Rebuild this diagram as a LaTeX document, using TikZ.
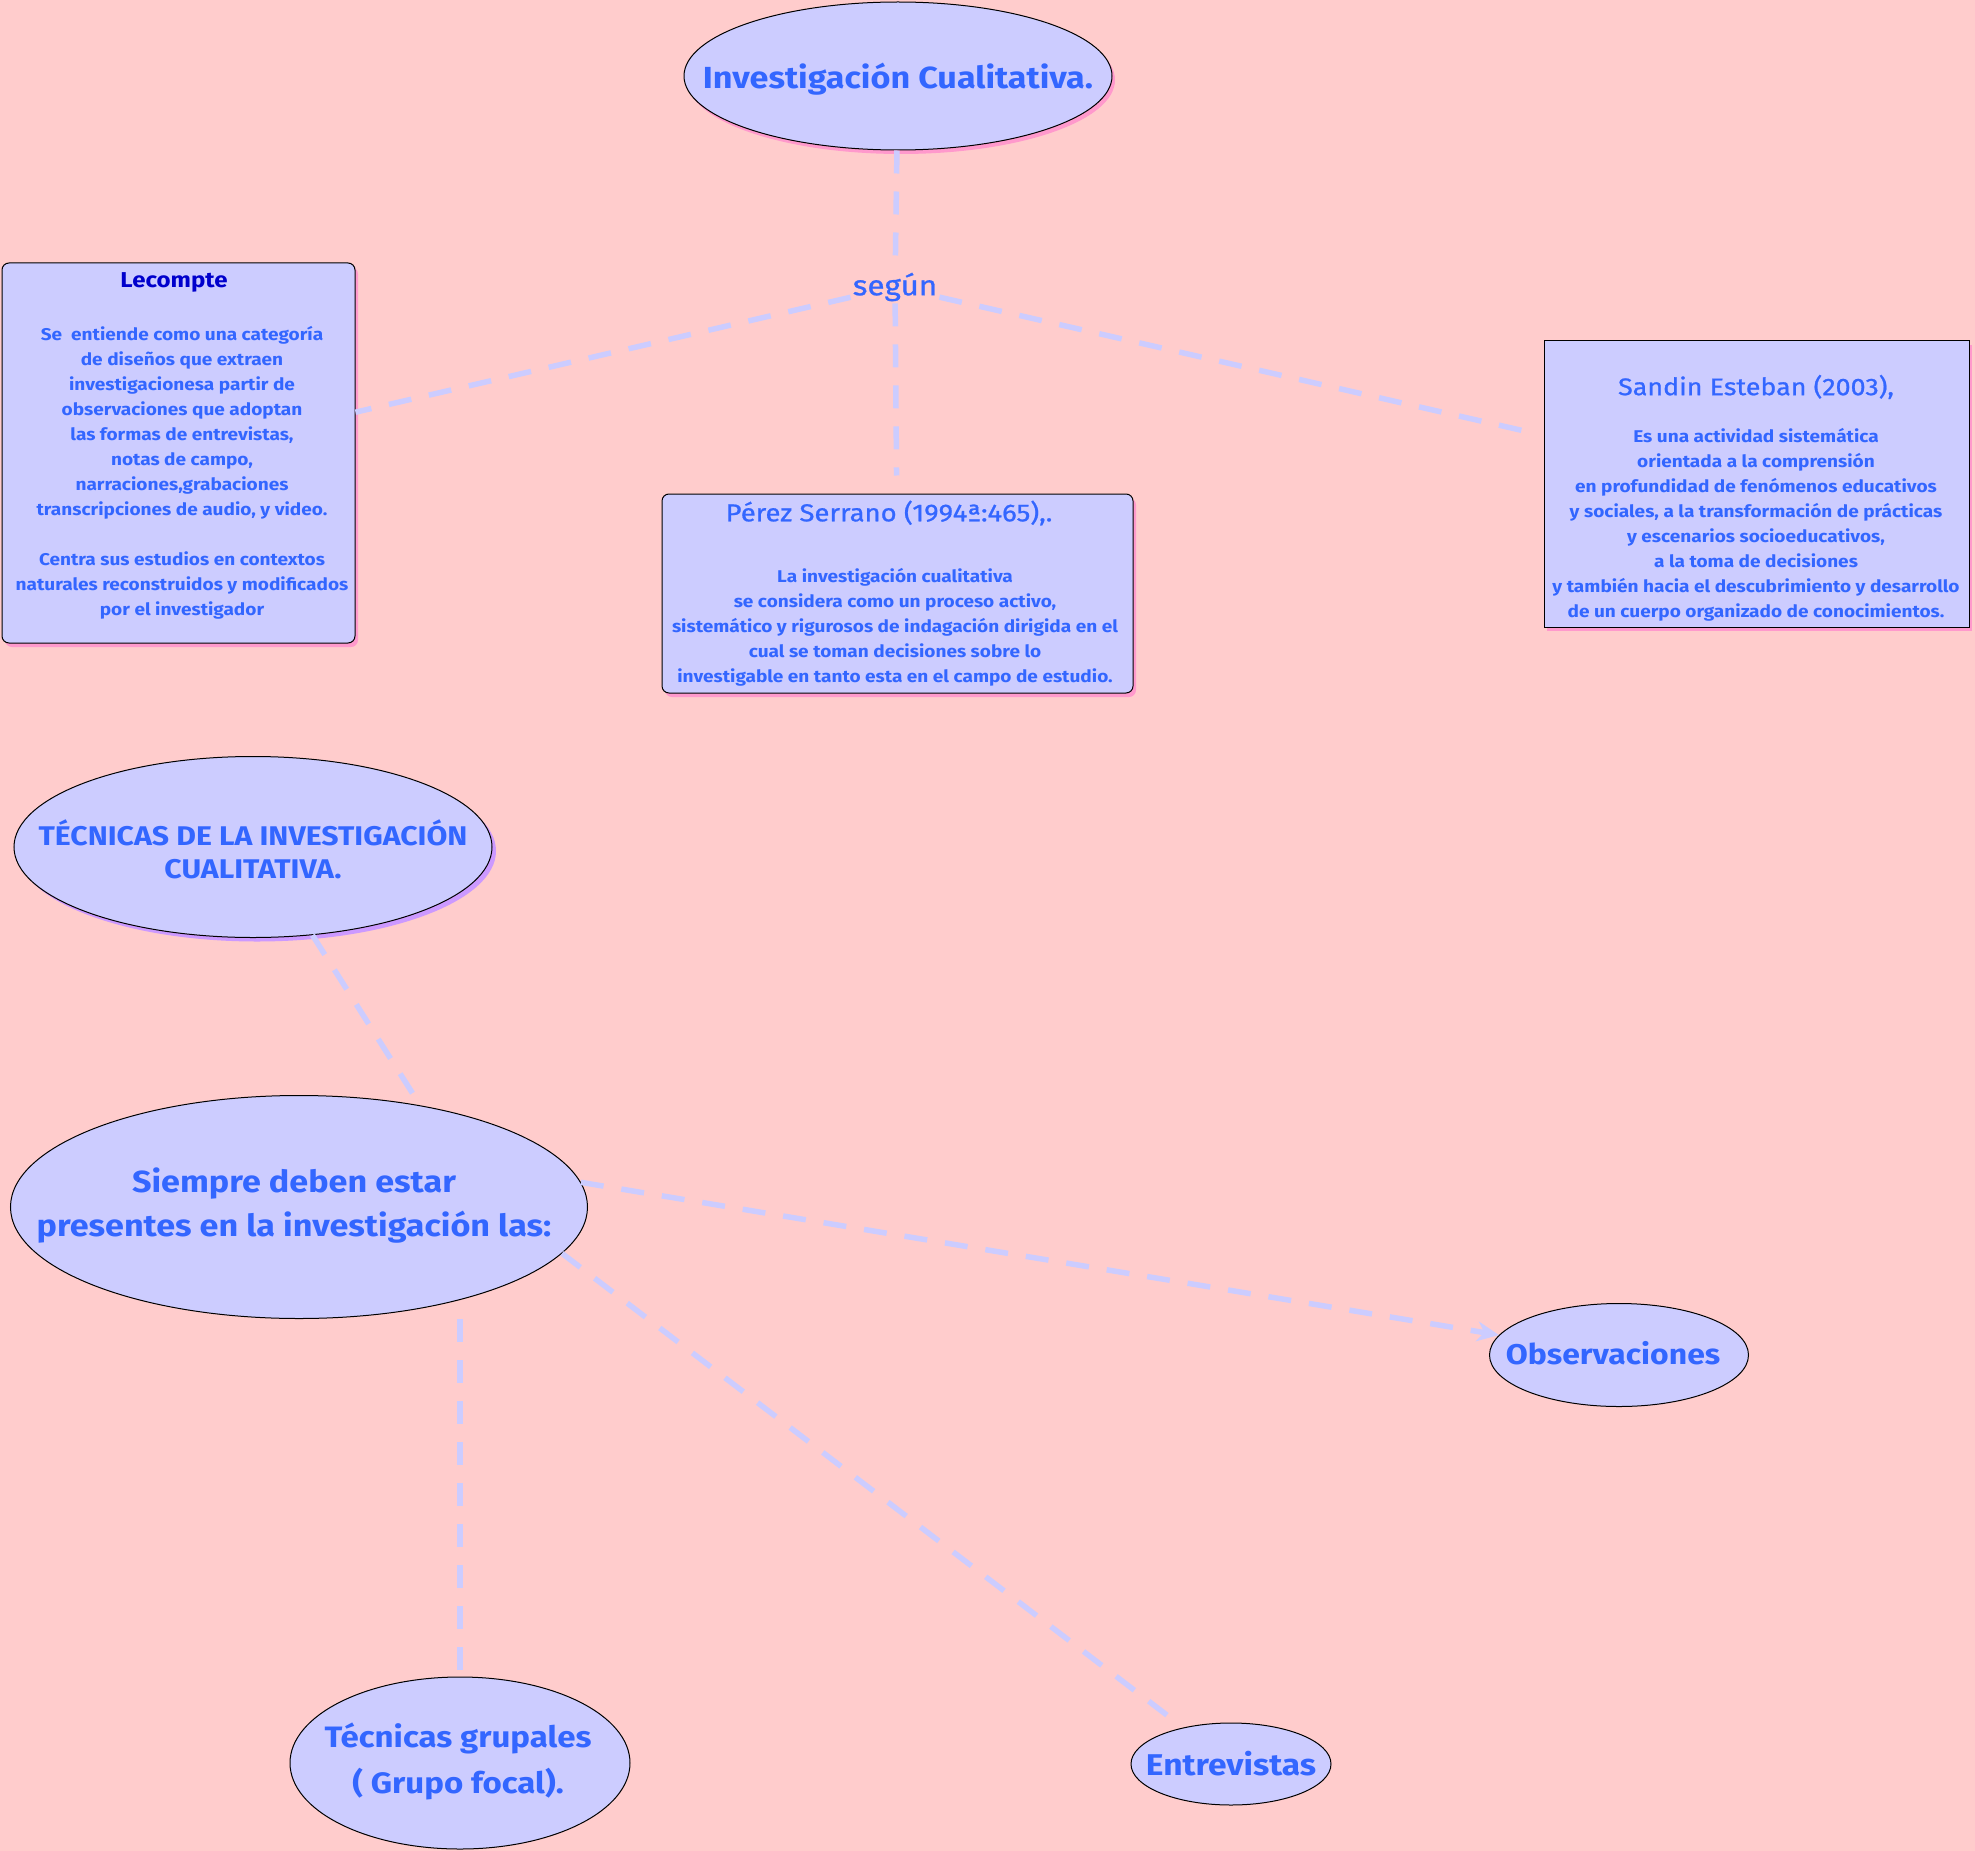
\documentclass[tikz,border=0pt]{standalone}
\usepackage{fontspec}
\setmainfont{Fira Sans}[FakeStretch=1.12]
\newfontfamily\medfont{Fira Sans}[FakeStretch=1.12, FakeBold=0.9]
\usetikzlibrary{shapes.geometric,shadows,arrows.meta}
\definecolor{bgpink}{HTML}{FFCCCC}
\definecolor{nodefill}{HTML}{CCCCFF}
\definecolor{txtblue}{HTML}{3366FF}
\definecolor{darkblue}{HTML}{0000CC}
\definecolor{shpink}{HTML}{FF99CC}
\definecolor{shviolet}{HTML}{CC99FF}
\definecolor{linkcol}{HTML}{CCCCFF}
\begin{document}
\begin{tikzpicture}[x=1pt,y=-1pt,
  concept/.style={ellipse, draw=black, line width=1pt, fill=nodefill, inner sep=0pt},
  concepttext/.style={text=txtblue, align=center, inner sep=0pt},
  infobox/.style={rectangle, draw=black, line width=1pt, fill=nodefill, inner sep=0pt},
  pinkshadow/.style={drop shadow={shadow xshift=3pt, shadow yshift=-4pt, fill=shpink, opacity=1}},
  violetshadow/.style={drop shadow={shadow xshift=4pt, shadow yshift=-4pt, fill=shviolet, opacity=1}},
  bodytext/.style={text=txtblue, align=center, inner sep=0pt, font=\bfseries\fontsize{17}{25}\selectfont},
  titletext/.style={text=txtblue, inner sep=0pt},
  link/.style={draw=linkcol, line width=5.5pt, dash pattern=on 23pt off 18pt}
]
\fill[bgpink] (0,0) rectangle (1975,1851);
\useasboundingbox (0,0) rectangle (1975,1851);

% top concept
\node[concept, pinkshadow, minimum width=428pt, minimum height=148pt] (top) at (898,76) {};
\node[concepttext, font=\bfseries\fontsize{30.5}{36}\selectfont] (toptext) at (898,79) {Investigación Cualitativa.};
\node[text=txtblue, inner sep=2pt, font=\medfont\fontsize{28}{34}\selectfont] (segun) at (895,287) {según};

% Lecompte
\node[infobox, rounded corners=7pt, pinkshadow, minimum width=353pt, minimum height=380pt] (lec) at (178.5,453) {};
\node[text=darkblue, inner sep=0pt, font=\bfseries\fontsize{21.5}{25}\selectfont] (lectitle) at (174,282) {Lecompte};
\node[bodytext] (lecbody) at (182,472.5) {Se\ \ entiende como una categoría\\
de diseños que extraen\\
investigacionesa partir de\\
observaciones que adoptan\\
las formas de entrevistas,\\
notas de campo,\\
narraciones,grabaciones\\
transcripciones de audio, y video.\\[25pt]
Centra sus estudios en contextos\\
naturales reconstruidos y modificados\\
por el investigador};

% Perez Serrano
\node[infobox, rounded corners=7pt, pinkshadow, minimum width=471pt, minimum height=199pt] (perez) at (897.5,593.5) {};
\node[titletext, font=\medfont\fontsize{24.5}{30}\selectfont] (pereztitle) at (889,513) {Pérez Serrano (1994ª:465),.};
\node[bodytext] (perezbody) at (895,627) {La investigación cualitativa\\
se considera como un proceso activo,\\
sistemático y rigurosos de indagación dirigida en el\\
cual se toman decisiones sobre lo\\
investigable en tanto esta en el campo de estudio.};

% Sandin Esteban
\node[infobox, pinkshadow, minimum width=425pt, minimum height=286pt] (sandin) at (1756.5,484) {};
\node[titletext, font=\medfont\fontsize{24}{30}\selectfont] (sandintitle) at (1756,387) {Sandin Esteban (2003),};
\node[bodytext] (sandinbody) at (1756,524.5) {Es una actividad sistemática\\
orientada a la comprensión\\
en profundidad de fenómenos educativos\\
y sociales, a la transformación de prácticas\\
y escenarios socioeducativos,\\
a la toma de decisiones\\
y también hacia el descubrimiento y desarrollo\\
de un cuerpo organizado de conocimientos.};

% lower part
\node[concept, violetshadow, minimum width=478pt, minimum height=181pt] (tec) at (253,847) {};
\node[concepttext, font=\bfseries\fontsize{27}{33}\selectfont] (tectext) at (253,849) {TÉCNICAS DE LA INVESTIGACIÓN\\CUALITATIVA.};
\node[concept, minimum width=577pt, minimum height=223pt] (siempre) at (299,1207) {};
\node[concepttext, font=\bfseries\fontsize{30.5}{44}\selectfont] (siempretext) at (294,1206) {Siempre deben estar\\presentes en la investigación las:};
\node[concept, minimum width=259pt, minimum height=103pt] (obs) at (1619,1355) {};
\node[concepttext, font=\bfseries\fontsize{28.5}{34}\selectfont] (obstext) at (1613,1353) {Observaciones};
\node[concept, minimum width=200pt, minimum height=82pt] (entre) at (1231,1764) {};
\node[concepttext, font=\bfseries\fontsize{30}{36}\selectfont] (entretext) at (1231,1764) {Entrevistas};
\node[concept, minimum width=340pt, minimum height=172pt] (grupales) at (460,1763) {};
\node[concepttext, font=\bfseries\fontsize{29.5}{46}\selectfont] (grupalestext) at (458,1761) {Técnicas grupales\\( Grupo focal).};

% connectors
\draw[link] (top) -- (segun);
\draw[link, shorten >=18pt] (segun) -- (perez);
\draw[link] (segun) -- (lec);
\draw[link, shorten >=14pt] (segun) -- (sandin);
\draw[link] (tec.-56) -- (siempre.40);
\draw[link, -{Stealth[length=22pt,width=20pt]}] (siempre.5) -- (obs);
\draw[link, shorten >=20pt] (siempre.-10) -- (entre);
\draw[link] (grupales.north |- siempre.south) -- (grupales.north);
\end{tikzpicture}
\end{document}
